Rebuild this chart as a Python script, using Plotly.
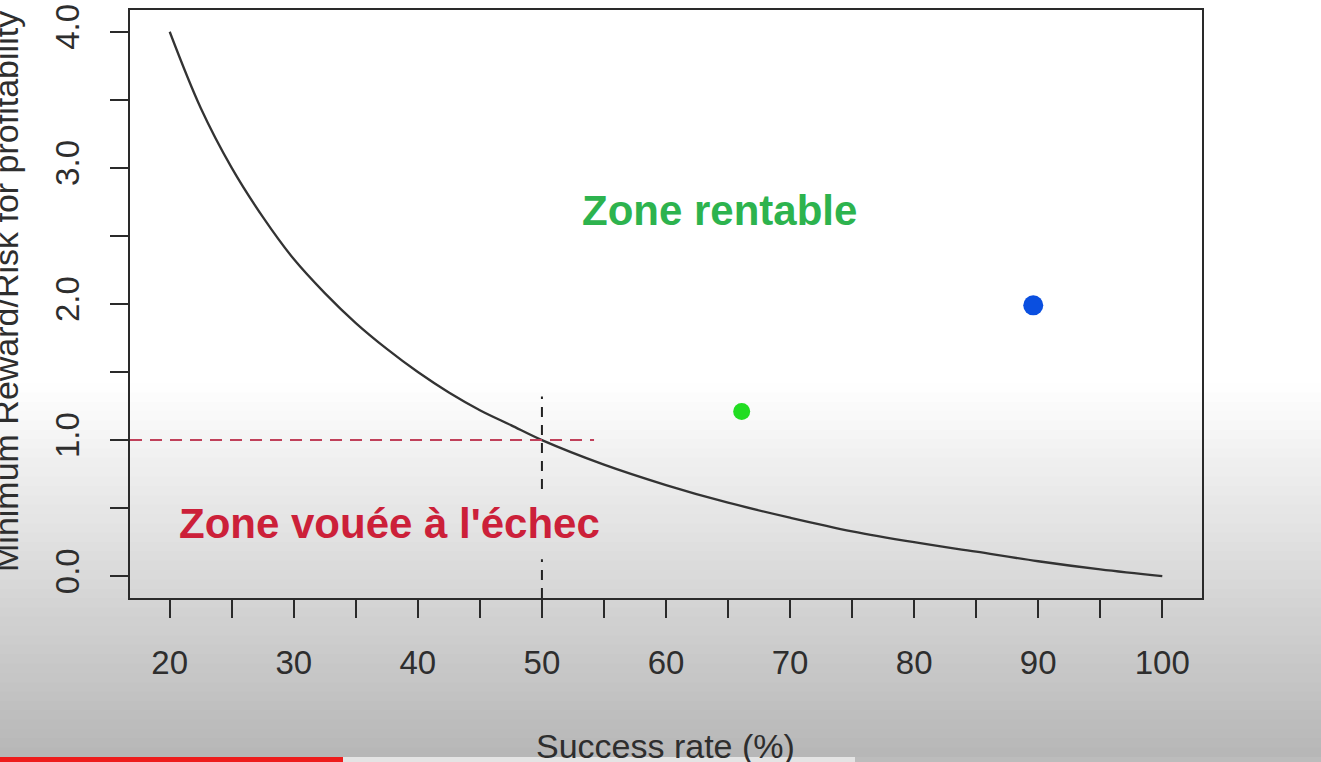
import plotly.graph_objects as go

# ---- data ----
success_rate = [20, 22.5, 25, 27.5, 30, 32.5, 35, 37.5, 40, 42.5, 45, 47.5, 50,
                55, 60, 65, 70, 75, 80, 85, 90, 95, 100]
min_reward_risk = [4.0, 3.44, 3.0, 2.64, 2.33, 2.08, 1.86, 1.67, 1.5, 1.35, 1.22, 1.11, 1.0,
                   0.82, 0.67, 0.54, 0.43, 0.33, 0.25, 0.18, 0.11, 0.05, 0.0]
green_point = (66.1, 1.21)
blue_point = (89.6, 1.99)
x_tick_vals = [20, 25, 30, 35, 40, 45, 50, 55, 60, 65, 70, 75, 80, 85, 90, 95, 100]
x_tick_text = ["20", "", "30", "", "40", "", "50", "", "60", "", "70", "", "80", "", "90", "", "100"]
y_tick_vals = [0, 0.5, 1, 1.5, 2, 2.5, 3, 3.5, 4]
y_tick_text = ["0.0", "", "1.0", "", "2.0", "", "3.0", "", "4.0"]
ref_x = 50
ref_y = 1.0

W, H = 1321, 762
L, R, T, B = 130, 1202, 10, 598
pw, ph = R - L, B - T


def px(xp):
    return (xp - L) / pw


def py(yp):
    return (B - yp) / ph


FONT = "Liberation Sans, Arial, Helvetica, sans-serif"
INK = "#2e2e2e"

fig = go.Figure()

# background gradient (video overlay) as overlapping strips
shapes = []
g_top, g_bot = 383, 757
n = 40
step = (g_bot - g_top) / n
for i in range(n):
    y0 = g_top + step * i
    y1 = y0 + step + 1.5
    t = (i + 0.5) / n
    v = int(round(255 - (255 - 182) * t))
    shapes.append(dict(type="rect", xref="paper", yref="paper", layer="below",
                       x0=px(-2), x1=px(W + 2), y0=py(y1), y1=py(y0),
                       fillcolor=f"rgb({v},{v},{v})", line=dict(width=0)))
# bottom progress bar
shapes.append(dict(type="rect", xref="paper", yref="paper", layer="above",
                   x0=px(-2), x1=px(W + 2), y0=py(H + 2), y1=py(757),
                   fillcolor="#bcbcbc", line=dict(width=0)))
shapes.append(dict(type="rect", xref="paper", yref="paper", layer="above",
                   x0=px(343), x1=px(855), y0=py(H + 2), y1=py(757),
                   fillcolor="#e4e4e4", line=dict(width=0)))
shapes.append(dict(type="rect", xref="paper", yref="paper", layer="above",
                   x0=px(-2), x1=px(343), y0=py(H + 2), y1=py(757),
                   fillcolor="#ee1c1c", line=dict(width=0)))

# reference lines
shapes.append(dict(type="line", xref="x", yref="y", x0=16.8, x1=54.2, y0=ref_y, y1=ref_y,
                   line=dict(color="#c0405a", width=2, dash="12px,8px")))
shapes.append(dict(type="line", xref="x", yref="y", x0=ref_x, x1=ref_x, y0=0.64, y1=1.32,
                   line=dict(color="#222222", width=2, dash="10px,8px")))
shapes.append(dict(type="line", xref="x", yref="y", x0=ref_x, x1=ref_x, y0=-0.16, y1=0.125,
                   line=dict(color="#222222", width=2, dash="10px,8px")))

fig.add_trace(go.Scatter(x=success_rate, y=min_reward_risk, mode="lines",
                         line=dict(color="#333333", width=2.3, shape="spline"),
                         showlegend=False, hoverinfo="skip"))
fig.add_trace(go.Scatter(x=[green_point[0]], y=[green_point[1]], mode="markers",
                         marker=dict(color="#22dd22", size=17, line=dict(width=0)),
                         showlegend=False))
fig.add_trace(go.Scatter(x=[blue_point[0]], y=[blue_point[1]], mode="markers",
                         marker=dict(color="#0a4fe0", size=20, line=dict(width=0)),
                         showlegend=False))

annotations = [
    dict(text="<b>Zone rentable</b>", x=64.3, y=2.69, xref="x", yref="y", showarrow=False,
         font=dict(family=FONT, size=42, color="#2db34e")),
    dict(text="<b>Zone vouée à l'échec</b>", x=37.7, y=0.39, xref="x", yref="y", showarrow=False,
         font=dict(family=FONT, size=42, color="#cc2039")),
    dict(text="Success rate (%)", x=px(665), y=py(746), xref="paper", yref="paper",
         showarrow=False, xanchor="center", yanchor="middle",
         font=dict(family=FONT, size=34, color=INK)),
    dict(text="Minimum Reward/Risk for profitability", x=px(6), y=py(292), xref="paper", yref="paper",
         showarrow=False, textangle=-90, xanchor="center", yanchor="middle",
         font=dict(family=FONT, size=34, color=INK)),
]

axis_common = dict(showgrid=False, zeroline=False, showline=True, linecolor="#2a2a2a",
                   linewidth=2, mirror=True, ticks="outside", ticklen=18, tickwidth=2,
                   tickcolor="#2a2a2a", tickfont=dict(family=FONT, size=33, color=INK))

fig.update_layout(
    width=W, height=H,
    margin=dict(l=L, r=W - R, t=T, b=H - B, autoexpand=False),
    paper_bgcolor="white", plot_bgcolor="rgba(0,0,0,0)",
    shapes=shapes, annotations=annotations,
    xaxis=dict(range=[16.8, 103.2], tickmode="array", tickvals=x_tick_vals, ticktext=x_tick_text,
               ticklabelstandoff=16, **axis_common),
    yaxis=dict(range=[-0.16, 4.16], tickmode="array", tickvals=y_tick_vals, ticktext=y_tick_text,
               tickangle=-90, ticklabelstandoff=18, **axis_common),
)

fig.write_html("out.html", config={"displayModeBar": False},
               post_script="document.body.style.margin='0';document.body.style.overflow='hidden';")
